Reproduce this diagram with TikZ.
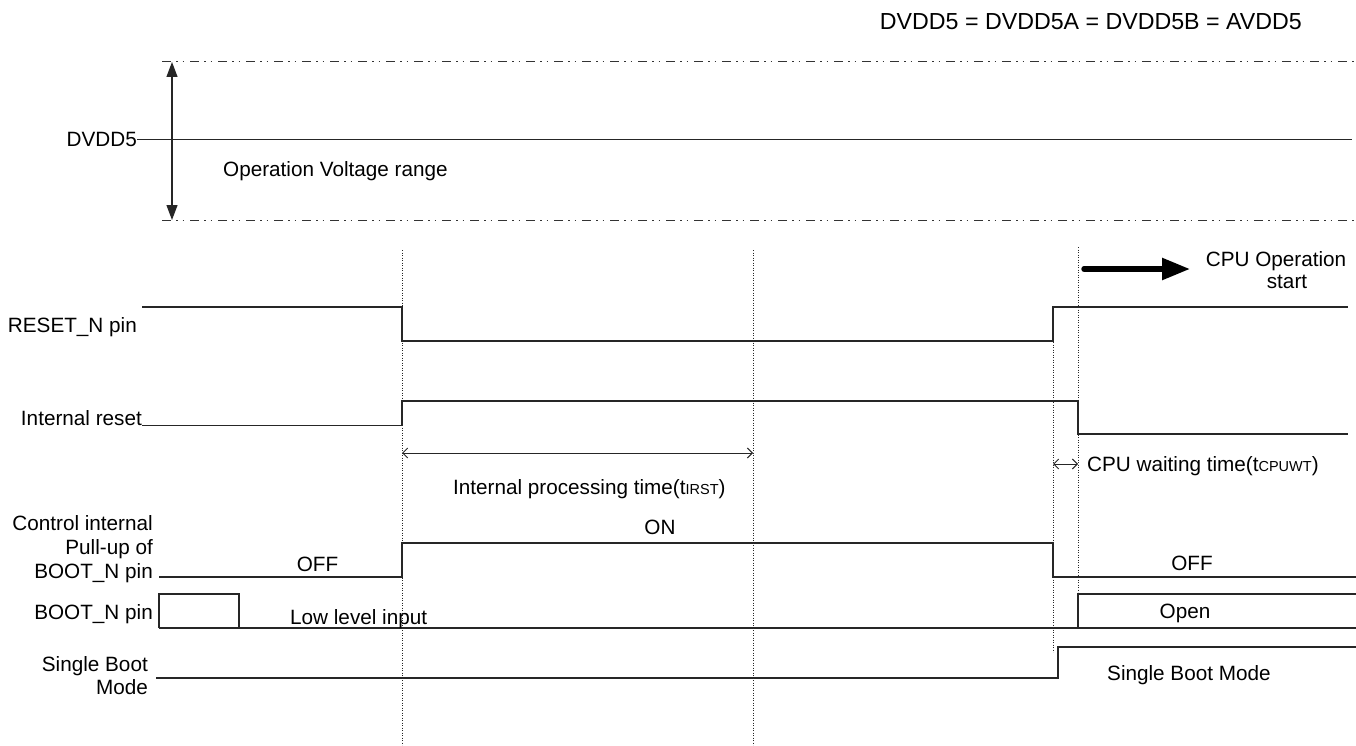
\documentclass[tikz,border=0pt]{standalone}
\usepackage{fontspec}
\setmainfont{Liberation Sans}
\usetikzlibrary{arrows.meta}
\begin{document}
\begin{tikzpicture}[x=1pt,y=-1pt,
  txt/.style={inner sep=0pt, font=\fontsize{20.7}{24}\selectfont},
  sig/.style={line width=1.2pt, draw=black!85, line join=miter},
  dashdot/.style={line width=1pt, draw=black!80, dash pattern=on 9pt off 5pt on 1.5pt off 5pt on 1.5pt off 6pt},
  vdot/.style={line width=0.9pt, draw=black!85, dash pattern=on 1.1pt off 1.4pt},
  dimarrow/.style={line width=1pt, draw=black!85, {Straight Barb[length=5pt,width=10pt]}-{Straight Barb[length=5pt,width=10pt]}},
  vrange/.style={line width=1.2pt, draw=black!85, {Triangle[length=15pt,width=11pt]}-{Triangle[length=15pt,width=11pt]}},
  bigarrow/.style={line width=5.5pt, line cap=round, -{Triangle[length=28pt,width=21pt]}},
]
\fill[white] (0,0) rectangle (1356,746);
\useasboundingbox (0,0) rectangle (1356,746);

% title
\node[txt, font=\fontsize{23.2}{27}\selectfont, anchor=base east] (title) at (1302,29.3) {DVDD5 = DVDD5A = DVDD5B = AVDD5};

% voltage range
\coordinate (dt1) at (162,62);  \coordinate (dt2) at (1356,62);
\coordinate (db1) at (162,220); \coordinate (db2) at (1356,220);
\draw[dashdot] (dt1) -- (dt2);
\draw[dashdot] (db1) -- (db2);
\coordinate (va1) at (172,62); \coordinate (va2) at (172,220);
\draw[vrange] (va1) -- (va2);
\node[txt, anchor=base east] (dvdd) at (137,146.5) {DVDD5};
\coordinate (dvddR) at (1352,139);
\draw[line width=1.4pt, draw=black!85] (dvdd.east) -- (dvdd.east -| dvddR);
\node[txt, anchor=base west] (opv) at (223,176.6) {Operation Voltage range};

% dotted time markers
\coordinate (m1a) at (402,250);  \coordinate (m1b) at (402,745);
\coordinate (m2a) at (753,250);  \coordinate (m2b) at (753,745);
\coordinate (m3a) at (1053,307); \coordinate (m3b) at (1053,652);
\coordinate (m4a) at (1078,247); \coordinate (m4b) at (1078,592);
\draw[vdot] (m1a) -- (m1b);
\draw[vdot] (m2a) -- (m2b);
\draw[vdot] (m3a) -- (m3b);
\draw[vdot] (m4a) -- (m4b);

% CPU operation start
\coordinate (ca) at (1084,269); \coordinate (cb) at (1190,269);
\draw[bigarrow] (ca) -- (cb);
\node[txt, anchor=base] (cpu1) at (1276,266.7) {CPU Operation};
\node[txt, anchor=base] (cpu2) at (1287,288.3) {start};

% RESET_N pin
\node[txt, anchor=base east] (rstl) at (137,332.7) {RESET\_N pin};
\draw[sig] (142,307) -- (402,307) -- (402,341) -- (1053,341) -- (1053,307) -- (1348,307);

% Internal reset
\node[txt, anchor=base east] (irl) at (142,425.7) {Internal reset};
\draw[sig] (irl.base east) -- (402,425.7) -- (402,401) -- (1078,401) -- (1078,434) -- (1348,434);

% timing dimensions
\coordinate (p1) at (402,453); \coordinate (p2) at (753,453);
\draw[dimarrow] (p1) -- (p2);
\node[txt, anchor=base west] (ipt) at (453,494) {Internal processing time(t{\fontsize{14.5}{14.5}\selectfont IRST})};
\coordinate (w1) at (1053,464); \coordinate (w2) at (1078,464);
\draw[dimarrow] (w1) -- (w2);
\node[txt, anchor=base west] (cwt) at (1087,471.7) {CPU waiting time(t{\fontsize{14.5}{14.5}\selectfont CPUWT})};

% Control internal pull-up
\node[txt, anchor=north east, align=right] (pul) at (153,515) {Control internal\\Pull-up of\\BOOT\_N pin};
\draw[sig] (159,577) -- (402,577) -- (402,543) -- (1053,543) -- (1053,577) -- (1356,577);
\node[txt, anchor=base] (off1) at (317.5,571.7) {OFF};
\node[txt, anchor=base] (on1) at (660,534) {ON};
\node[txt, anchor=base] (off2) at (1192,570.7) {OFF};

% BOOT_N pin
\node[txt, anchor=base east] (bnl) at (153,619) {BOOT\_N pin};
\draw[sig] (159,628) -- (159,594) -- (239,594) -- (239,628);
\draw[sig] (159,628) -- (1356,628);
\draw[sig] (1078,628) -- (1078,594) -- (1356,594);
\draw[line width=2pt, draw=black!85] (1078,628) -- (1100,628);
\node[txt, anchor=base west] (lli) at (290,624) {Low level input};
\node[txt, anchor=base] (opn) at (1185,618.3) {Open};

% Single Boot Mode
\node[txt, anchor=north east, align=right, font=\fontsize{20.7}{22.6}\selectfont] (sbl) at (148,656.5) {Single Boot\\Mode};
\draw[sig] (156,678) -- (1058,678) -- (1058,647) -- (1356,647);
\node[txt, anchor=base west] (sbm) at (1107,680) {Single Boot Mode};
\end{tikzpicture}
\end{document}
